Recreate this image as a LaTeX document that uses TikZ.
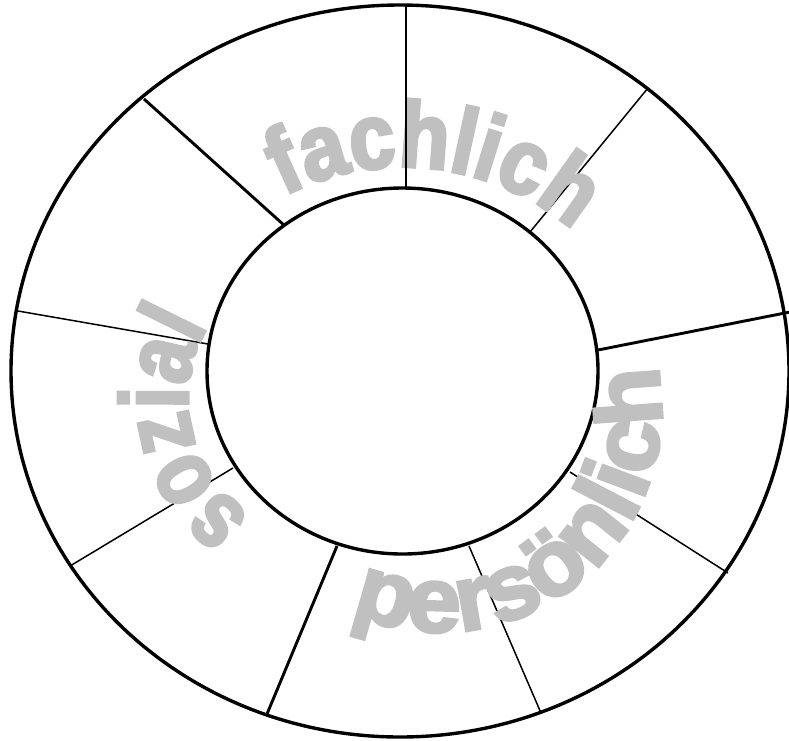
\documentclass[tikz,border=0pt]{standalone}
\usepackage{fontspec}
\usetikzlibrary{decorations.text,calc}
\newfontfamily\wordA{Liberation Sans Bold}[FakeStretch=0.88,FakeBold=3.5]
\newfontfamily\wordB{Liberation Sans Bold}[FakeStretch=1.03,FakeBold=3.5]
\newfontfamily\wordC{Liberation Sans Bold}[FakeStretch=0.8,FakeBold=3.5]
\definecolor{wgray}{RGB}{192,192,192}
\tikzset{
  ring/.style={line width=3.4pt},
  thinline/.style={line width=1.5pt},
  thickline/.style={line width=2.9pt},
}
\begin{document}
\begin{tikzpicture}[x=1pt,y=1pt]
\useasboundingbox (0,0) rectangle (789,-740);
% centres
\coordinate (O) at (400,-371);
\coordinate (I) at (402.5,-371);
\coordinate (F) at (403,-427);
\coordinate (P) at (440,-411);
\coordinate (S) at (328,-398);
% spoke end points (outer / inner)
\coordinate (o1) at (406,-4);   \coordinate (i1) at (406,-189);
\coordinate (o2) at (648,-88);  \coordinate (i2) at (530,-232);
\coordinate (o3) at (790,-312); \coordinate (i3) at (598,-350);
\coordinate (o4) at (728,-573); \coordinate (i4) at (570,-472);
\coordinate (o5) at (541,-713); \coordinate (i5) at (469,-546);
\coordinate (o6) at (267,-714); \coordinate (i6) at (337,-546);
\coordinate (o7) at (70,-566);  \coordinate (i7) at (233,-468);
\coordinate (o8) at (18,-311);  \coordinate (i8) at (208,-344);
\coordinate (o9) at (144,-99);  \coordinate (i9) at (285,-226);
% spokes
\draw[thinline] (o2) -- (i2);
\draw[thickline] (o3) -- (i3);
\draw[thinline] (o4) -- (i4);
\draw[thinline] (o5) -- (i5);
\draw[thickline] (o6) -- (i6);
\draw[thinline] (o7) -- (i7);
\draw[thinline] (o8) -- (i8);
\draw[thickline] (o9) -- (i9);
% rings
\draw[ring] (O) ellipse[x radius=389, y radius=366];
\draw[ring] (I) ellipse[x radius=195.5, y radius=183];
% words
\path[decorate, decoration={text along path, text align=center, text color=wgray,
  text={|\wordA\fontsize{93}{93}\selectfont|fachlich}}]
  ($(F)+(143.2:260)$) arc[start angle=143.2, end angle=23.2, radius=260];
\path[decorate, decoration={text along path, text align=center, text color=wgray,
  text={|\wordB\fontsize{93}{93}\selectfont|persönlich}}]
  ($(P)+(-131:221)$) arc[start angle=-131, end angle=29, radius=221];
\path[decorate, decoration={text along path, text align=center, text color=wgray,
  text={|\wordC\fontsize{96}{96}\selectfont|sozial}}]
  ($(S)+(253:140)$) arc[start angle=253, end angle=133, radius=140];
\draw[thinline] (o1) -- (i1);
\end{tikzpicture}
\end{document}
